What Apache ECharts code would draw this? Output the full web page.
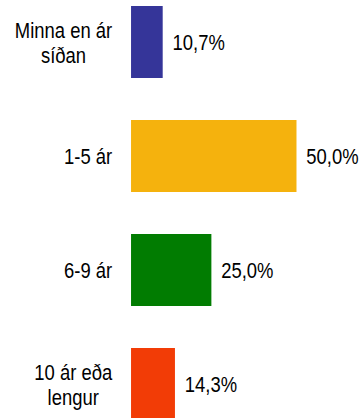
<!DOCTYPE html>
<html>
<head>
<meta charset="utf-8">
<script src="https://cdn.jsdelivr.net/npm/echarts@6/dist/echarts.min.js"></script>
<style>
html,body{margin:0;padding:0;background:#fff;overflow:hidden;}
#wrap{width:360px;height:418px;overflow:hidden;position:relative;}
#chart{width:439px;height:418px;transform:scaleX(0.82);transform-origin:0 0;position:absolute;left:0;top:0;}
</style>
</head>
<body>
<div id="wrap"><div id="chart"></div></div>
<script>
var categories = ['Minna en ár\nsíðan', '1-5 ár', '6-9 ár', '10 ár eða\nlengur'];
var values = [10.7, 50.0, 25.0, 14.3];
var colors = ['#353599', '#F5B20D', '#017C01', '#F23C06'];

// The reference uses a condensed face; regular Liberation Sans is drawn and the
// whole chart is squeezed horizontally by 0.82 (Arial Narrow / Arial width ratio).
var FONT = '"Liberation Sans", Arial, sans-serif';
var FS = 22.5;
var chart = echarts.init(document.getElementById('chart'), null, {renderer: 'svg'});
chart.setOption({
  animation: false,
  backgroundColor: '#ffffff',
  grid: {left: 159.8, right: 30.1, top: -15, height: 456, containLabel: false, outerBoundsMode: 'none'},
  xAxis: {
    type: 'value', min: 1.4, max: 61.4, show: false
  },
  yAxis: {
    type: 'category',
    inverse: true,
    data: categories,
    axisLine: {show: false},
    axisTick: {show: false},
    splitLine: {show: false},
    axisLabel: {
      margin: 23,
      color: '#000',
      fontFamily: FONT,
      fontSize: FS,
      lineHeight: 25,
      formatter: function (v) {
        return v.split('\n').map(function (s) { return '{c|' + s + '}'; }).join('\n');
      },
      rich: {
        c: {align: 'center', color: '#000', fontFamily: FONT, fontSize: FS, lineHeight: 25}
      }
    }
  },
  series: [{
    type: 'bar',
    barWidth: 72,
    data: values.map(function (v, i) {
      return {value: v, itemStyle: {color: colors[i]}};
    }),
    label: {
      show: true,
      position: 'right',
      distance: 12,
      color: '#000',
      fontFamily: FONT,
      fontSize: FS,
      formatter: function (p) { return p.value.toFixed(1).replace('.', ',') + '%'; }
    }
  }]
});
</script>
</body>
</html>
